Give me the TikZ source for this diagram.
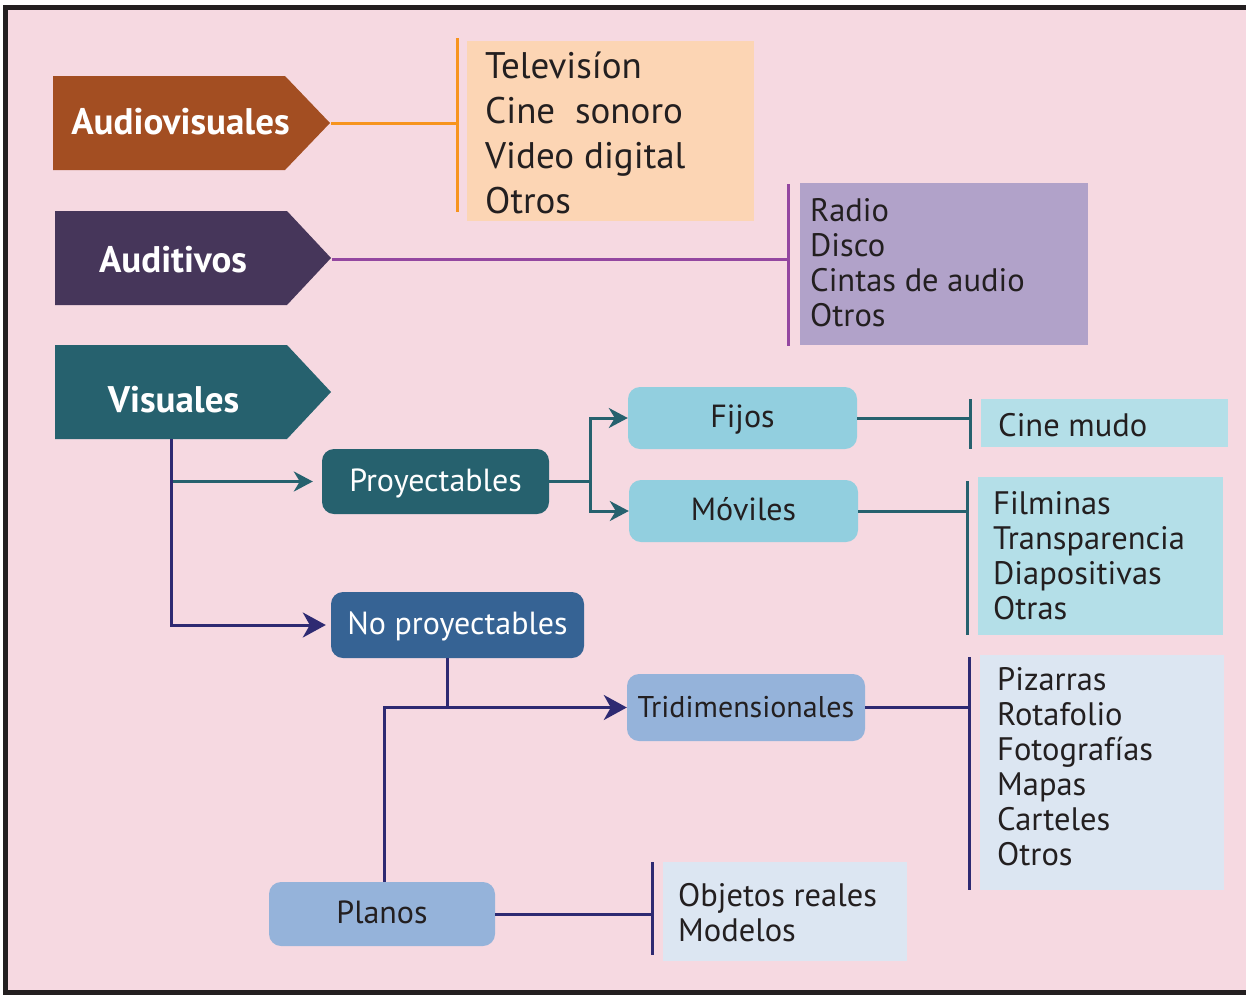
\documentclass[tikz,border=0pt]{standalone}
\usepackage{fontspec}
\setmainfont{PT Sans}
\usetikzlibrary{arrows.meta}

\definecolor{bgpink}{HTML}{F6D9E1}
\definecolor{framek}{HTML}{231F20}
\definecolor{avbrown}{HTML}{A34E22}
\definecolor{audplum}{HTML}{46365A}
\definecolor{visteal}{HTML}{26616E}
\definecolor{avorange}{HTML}{F7941E}
\definecolor{avpeach}{HTML}{FCD5B4}
\definecolor{audline}{HTML}{9447A0}
\definecolor{audlilac}{HTML}{B1A2C9}
\definecolor{skyfill}{HTML}{92CFDF}
\definecolor{skylight}{HTML}{B4DFE8}
\definecolor{navyln}{HTML}{2E2A72}
\definecolor{npblue}{HTML}{366394}
\definecolor{steelfill}{HTML}{95B3DA}
\definecolor{palefill}{HTML}{DCE6F2}
\definecolor{inkdark}{HTML}{231F20}

\begin{document}
\begin{tikzpicture}[x=1pt,y=-1pt,
  headtxt/.style={text=white,font=\fontsize{37}{40}\selectfont\bfseries,inner sep=0pt,anchor=base},
  bigitem/.style={text=inkdark,font=\fontsize{37}{45}\selectfont,inner sep=0pt,anchor=base west},
  item/.style={text=inkdark,font=\fontsize{32.5}{35}\selectfont,inner sep=0pt,anchor=base west},
  rbox/.style={rectangle,rounded corners=12pt,inner sep=0pt,text height=20pt,text depth=1pt,
    font=\fontsize{32}{34}\selectfont},
  listbox/.style={rectangle,inner sep=0pt},
  tealline/.style={draw=visteal,line width=3pt},
  navyline/.style={draw=navyln,line width=3pt},
  tealtip/.style={-{Stealth[length=19pt,width=20pt,inset=6pt]}},
  navytip/.style={-{Stealth[length=23pt,width=25pt,inset=7pt]}},
  bar/.style={line width=3pt}
]
\useasboundingbox (0,0) rectangle (1246,994);
\fill[white] (0,0) rectangle (1246,994);
\fill[bgpink] (8,10) rectangle (1246,990);
\draw[framek,line width=5pt] (1246,7.5) -- (5.5,7.5) -- (5.5,992) -- (1246,992);

% ---------- headers ----------
\fill[avbrown] (53,76) -- (285,76) -- (330,123) -- (285,170) -- (53,170) -- cycle;
\coordinate (avtip) at (331,123.5);
\node[headtxt] (avlabel) at (180.5,134) {Audiovisuales};

\fill[audplum] (55,211) -- (287,211) -- (331,258) -- (287,305) -- (55,305) -- cycle;
\coordinate (audtip) at (332,259.5);
\node[headtxt] (audlabel) at (173,272) {Auditivos};

\fill[visteal] (55,345) -- (287,345) -- (331,392) -- (287,439) -- (55,439) -- cycle;
\coordinate (visfoot) at (171,439);
\node[headtxt] (vislabel) at (173.5,412) {Visuales};

% ---------- audiovisuales ----------
\node[listbox,fill=avpeach,minimum width=287pt,minimum height=180pt] (avbox) at (610.5,131) {};
\coordinate (avbar) at (457,124);
\draw[avorange,bar] (457,38) -- (457,212);
\draw[avorange,line width=2.5pt] (avtip) -- (avtip -| avbar);
\foreach \t [count=\i] in {Televisíon,Cine\ \ sonoro,Video digital,Otros}
  \node[bigitem] (av\i) at (485,{78+45*(\i-1)}) {\t};

% ---------- auditivos ----------
\node[listbox,fill=audlilac,minimum width=288pt,minimum height=162pt] (audbox) at (944,264) {};
\coordinate (audbar) at (788,260);
\draw[audline,bar] (788,184) -- (788,346);
\draw[audline,line width=3pt] (audtip) -- (audtip -| audbar);
\foreach \t [count=\i] in {Radio,Disco,Cintas de audio,Otros}
  \node[item] (aud\i) at (810,{221+35*(\i-1)}) {\t};

% ---------- proyectables ----------
\node[rbox,fill=visteal,text=white,minimum width=227pt,minimum height=65pt] (proy) at (435.5,481.5) {Proyectables};
\node[rbox,fill=skyfill,text=inkdark,minimum width=229pt,minimum height=62pt] (fijos) at (742.5,418) {Fijos};
\node[rbox,fill=skyfill,text=inkdark,minimum width=229pt,minimum height=62pt] (moviles) at (743.5,511) {Móviles};

\draw[tealline,tealtip,shorten >=9pt] (visfoot |- proy.west) -- (proy.west);
\coordinate (pfork) at (590,481.5);
\draw[tealline] (proy.east) -- (pfork);
\draw[tealline,tealtip] (pfork) |- (fijos.west);
\draw[tealline,tealtip] (pfork) |- (moviles.west);

\node[listbox,fill=skylight,minimum width=247pt,minimum height=48pt] (mudobox) at (1104.5,423) {};
\coordinate (fbar) at (970,422);
\draw[visteal,bar] (970,399) -- (970,449);
\draw[tealline] (fijos.east) -- (fijos.east -| fbar);
\node[item] (mudo) at (998,436) {Cine mudo};

\node[listbox,fill=skylight,minimum width=245pt,minimum height=158pt] (movbox) at (1100.5,556) {};
\coordinate (mbar) at (967,511);
\draw[visteal,bar] (967,481) -- (967,635);
\draw[tealline] (moviles.east) -- (moviles.east -| mbar);
\foreach \t [count=\i] in {Filminas,Transparencia,Diapositivas,Otras}
  \node[item] (mov\i) at (993,{514+35*(\i-1)}) {\t};

% ---------- no proyectables ----------
\node[rbox,fill=npblue,text=white,minimum width=253pt,minimum height=66pt] (np) at (457.5,625) {No proyectables};
\draw[navyline,navytip,shorten >=5pt] (visfoot) |- (np.west);

\node[rbox,fill=steelfill,text=inkdark,minimum width=238pt,minimum height=67pt,font=\fontsize{30}{34}\selectfont] (tri) at (746,707.5) {Tridimensionales};
\node[rbox,fill=steelfill,text=inkdark,minimum width=226pt,minimum height=64pt] (planos) at (382,914) {Planos};

\coordinate (npdrop) at (447,658);
\draw[navyline] (npdrop) -- (npdrop |- tri.west);
\coordinate (pcol) at (384,882);
\draw[navyline,navytip] (pcol) |- (tri.west);

\node[listbox,fill=palefill,minimum width=244pt,minimum height=235pt] (tribox) at (1102,772.5) {};
\coordinate (tbar) at (969,707.5);
\draw[navyln,bar] (969,657) -- (969,890);
\draw[navyline] (tri.east) -- (tri.east -| tbar);
\foreach \t [count=\i] in {Pizarras,Rotafolio,Fotografías,Mapas,Carteles,Otros}
  \node[item] (tri\i) at (997,{690+35*(\i-1)}) {\t};

\node[listbox,fill=palefill,minimum width=244pt,minimum height=99pt] (plbox) at (785,911.5) {};
\coordinate (plbar) at (652,910);
\draw[navyln,bar] (652,862) -- (652,955);
\draw[navyline] (planos.east) -- (planos.east -| plbar);
\foreach \t [count=\i] in {Objetos reales,Modelos}
  \node[item] (pl\i) at (678,{906+35*(\i-1)}) {\t};
\end{tikzpicture}
\end{document}
